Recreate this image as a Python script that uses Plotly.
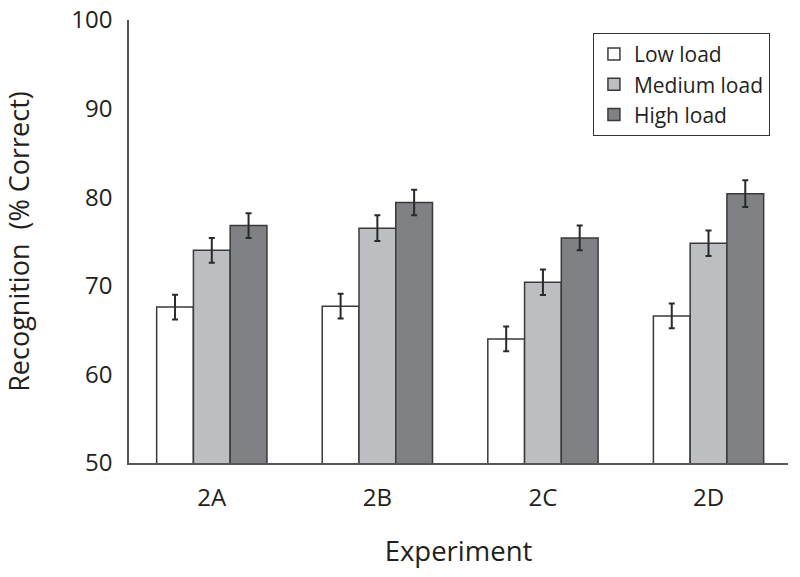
import plotly.graph_objects as go

experiments = ["2A", "2B", "2C", "2D"]
series_names = ["Low load", "Medium load", "High load"]
low = [67.6, 67.7, 64.0, 66.6]
medium = [74.0, 76.5, 70.4, 74.8]
high = [76.8, 79.4, 75.4, 80.4]
low_err = [1.4, 1.4, 1.4, 1.4]
medium_err = [1.4, 1.45, 1.45, 1.45]
high_err = [1.4, 1.45, 1.4, 1.5]

colors = ["#ffffff", "#bdbec2", "#808185"]
values = [low, medium, high]
errors = [low_err, medium_err, high_err]

FONT = "Open Sans"
TXT = "#231f20"

fig = go.Figure()
for name, vals, errs, col in zip(series_names, values, errors, colors):
    fig.add_trace(go.Bar(
        x=experiments, y=vals, name=name,
        marker=dict(color=col, line=dict(color="#3a3a3a", width=1.5)),
        error_y=dict(type="data", array=errs, visible=True,
                     color="#2a2a2a", thickness=2, width=3),
    ))

fig.update_layout(
    width=800, height=577,
    barmode="group", bargap=0.334, bargroupgap=0,
    plot_bgcolor="white", paper_bgcolor="white",
    margin=dict(l=129, r=12, t=20, b=114),
    font=dict(family=FONT, color=TXT, size=20),
    legend=dict(
        x=0.704, y=0.971, xanchor="left", yanchor="top",
        bordercolor="#333333", borderwidth=1, bgcolor="white",
        font=dict(family=FONT, size=21, color=TXT),
        tracegroupgap=0, itemwidth=30,
    ),
    showlegend=True,
)
fig.update_xaxes(
    range=[-0.5, 3.48], showline=True, linecolor="#555555", linewidth=1.5,
    ticks="", ticklabelstandoff=12, tickfont=dict(size=24),
    showgrid=False, zeroline=False, automargin=False,
    title=dict(text="Experiment", font=dict(size=27.5), standoff=30),
)
fig.update_yaxes(
    range=[50, 100], tickvals=[50, 60, 70, 80, 90, 100],
    showline=True, linecolor="#555555", linewidth=1.5,
    ticks="", ticklabelstandoff=10, tickfont=dict(size=24),
    ticklabeloverflow="allow",
    showgrid=False, zeroline=False, automargin=False,
    title=dict(text="Recognition  (% Correct)", font=dict(size=27), standoff=44),
)

fig.write_html("out.html", config={"displayModeBar": False},
               post_script="document.body.style.margin='0px';")
